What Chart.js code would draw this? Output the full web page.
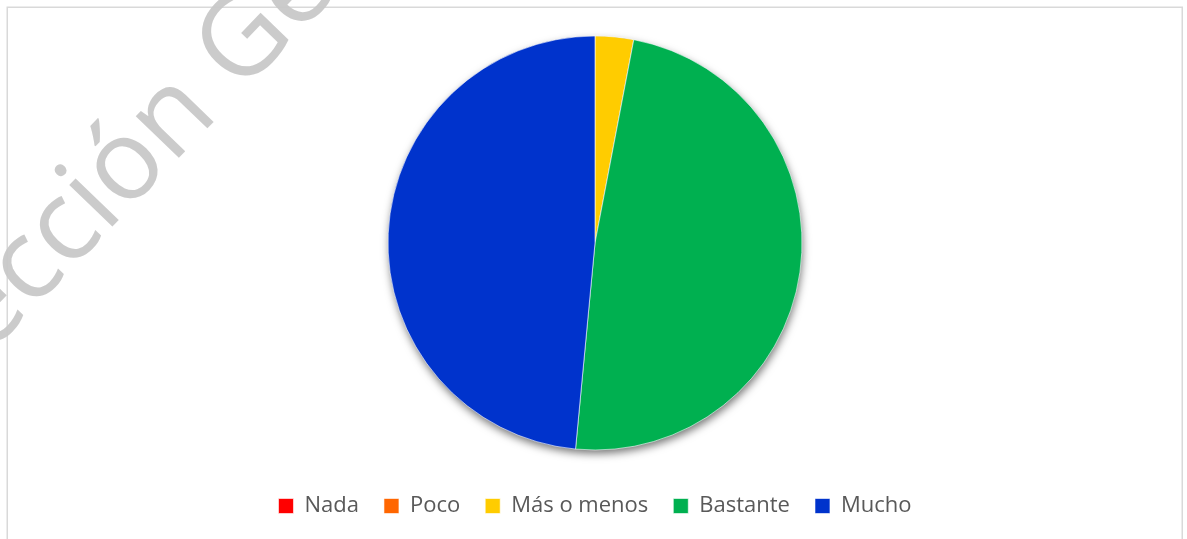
<!DOCTYPE html>
<html>
<head>
<meta charset="utf-8">
<script src="https://cdn.jsdelivr.net/npm/chart.js@4"></script>
<style>
  html, body { margin: 0; padding: 0; background: #ffffff; }
  #wrap { width: 1187px; height: 539px; position: relative; }
</style>
</head>
<body>
<div id="wrap"><canvas id="c" width="1187" height="539"></canvas></div>
<script>
const categories = ['Nada', 'Poco', 'Más o menos', 'Bastante', 'Mucho'];
const values = [0, 0, 3, 48.5, 48.5];
const colors = ['#FF0000', '#FF6600', '#FFCC00', '#00B050', '#0033CC'];
const watermarkText = 'Dirección General';

const framePlugin = {
  id: 'frame',
  beforeDraw(chart) {
    const ctx = chart.ctx;
    ctx.save();
    ctx.fillStyle = '#ffffff';
    ctx.fillRect(0, 0, chart.width, chart.height);
    ctx.strokeStyle = '#d9d9d9';
    ctx.lineWidth = 1.5;
    ctx.strokeRect(7.25, 7.25, 1175, 560);
    ctx.restore();
  }
};

const shadowPlugin = {
  id: 'pieShadow',
  beforeDatasetsDraw(chart) {
    const meta = chart.getDatasetMeta(0);
    const arc = meta.data[0];
    if (!arc) return;
    const ctx = chart.ctx;
    ctx.save();
    ctx.shadowColor = 'rgba(0,0,0,0.55)';
    ctx.shadowBlur = 9;
    ctx.shadowOffsetX = 1;
    ctx.shadowOffsetY = 4;
    ctx.fillStyle = '#0033CC';
    ctx.beginPath();
    ctx.arc(arc.x, arc.y, arc.outerRadius - 0.5, 0, Math.PI * 2);
    ctx.fill();
    ctx.restore();
  }
};

const watermarkPlugin = {
  id: 'watermark',
  afterDraw(chart) {
    const ctx = chart.ctx;
    ctx.save();
    const size = 112;
    ctx.font = size + 'px "Open Sans", sans-serif';
    ctx.fillStyle = 'rgba(200,200,200,0.95)';
    const prefix = ctx.measureText('Direcci').width;
    const ow = ctx.measureText('ó').width;
    ctx.translate(127, 168);
    ctx.rotate(-46 * Math.PI / 180);
    ctx.textBaseline = 'alphabetic';
    ctx.fillText(watermarkText, -(prefix + ow / 2), size * 0.27);
    ctx.restore();
  }
};

new Chart(document.getElementById('c'), {
  type: 'pie',
  data: {
    labels: categories,
    datasets: [{
      data: values,
      backgroundColor: colors,
      borderColor: '#ffffff',
      borderWidth: 0.6,
      radius: 207
    }]
  },
  options: {
    responsive: false,
    animation: false,
    devicePixelRatio: 1,
    layout: { padding: { top: 16, bottom: 12, left: 3, right: 0 } },
    plugins: {
      title: { display: false },
      tooltip: { enabled: false },
      legend: {
        position: 'bottom',
        labels: {
          boxWidth: 15,
          boxHeight: 15,
          padding: 25,
          color: '#595959',
          font: { family: '"Open Sans", sans-serif', size: 22 }
        }
      }
    }
  },
  plugins: [framePlugin, shadowPlugin, watermarkPlugin]
});
</script>
</body>
</html>
